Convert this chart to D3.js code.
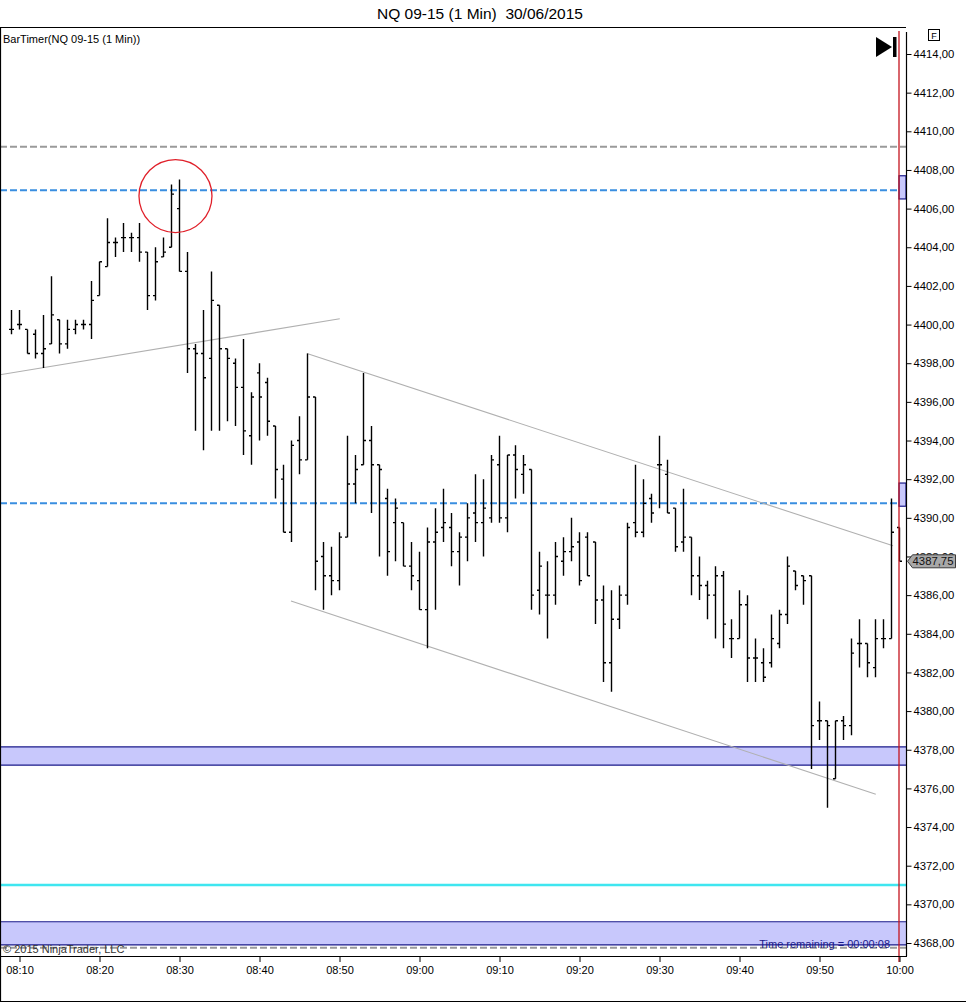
<!DOCTYPE html>
<html>
<head>
<meta charset="utf-8">
<script src="https://cdn.jsdelivr.net/npm/d3@7"></script>
<style>
  html, body { margin: 0; padding: 0; background: #fff; }
  svg { display: block; font-family: "Liberation Sans", Arial, sans-serif; }
</style>
</head>
<body>
<svg id="chart" width="967" height="1002"></svg>
<script>
(function() {
  'use strict';

  // ---- data ----
  const times = [
    '08:09','08:10','08:11','08:12','08:13','08:14','08:15','08:16','08:17','08:18','08:19',
    '08:20','08:21','08:22','08:23','08:24','08:25','08:26','08:27','08:28','08:29',
    '08:30','08:31','08:32','08:33','08:34','08:35','08:36','08:37','08:38','08:39',
    '08:40','08:41','08:42','08:43','08:44','08:45','08:46','08:47','08:48','08:49',
    '08:50','08:51','08:52','08:53','08:54','08:55','08:56','08:57','08:58','08:59',
    '09:00','09:01','09:02','09:03','09:04','09:05','09:06','09:07','09:08','09:09',
    '09:10','09:11','09:12','09:13','09:14','09:15','09:16','09:17','09:18','09:19',
    '09:20','09:21','09:22','09:23','09:24','09:25','09:26','09:27','09:28','09:29',
    '09:30','09:31','09:32','09:33','09:34','09:35','09:36','09:37','09:38','09:39',
    '09:40','09:41','09:42','09:43','09:44','09:45','09:46','09:47','09:48','09:49',
    '09:50','09:51','09:52','09:53','09:54','09:55','09:56','09:57','09:58','09:59',
    '10:00'
  ];
  const opens = [
    4399.75,4400.0,4399.75,4399.5,4398.5,4399.0,4400.25,4399.0,4399.75,4400.0,4400.0,
    4401.5,4403.0,4404.25,4404.5,4404.5,4404.5,4403.75,4401.5,4403.5,4404.0,
    4406.0,4402.75,4398.75,4398.5,4398.25,4401.0,4398.75,4398.0,4396.75,4394.25,
    4397.5,4397.0,4394.75,4392.0,4389.25,4394.0,4393.0,4396.25,4388.0,4387.0,
    4386.75,4389.0,4391.75,4392.75,4394.0,4392.75,4391.0,4389.75,4389.75,4387.5,
    4386.75,4385.25,4388.75,4389.5,4389.5,4388.25,4389.0,4390.25,4389.75,4390.0,
    4392.75,4390.0,4393.25,4392.25,4392.5,4386.25,4386.0,4386.0,4387.75,4388.25,
    4388.75,4389.0,4388.75,4385.75,4382.5,4384.75,4386.0,4389.75,4389.25,4391.0,
    4392.75,4392.25,4390.5,4388.75,4389.0,4387.0,4386.5,4386.0,4387.0,4383.75,
    4383.75,4385.5,4382.75,4382.5,4382.5,4383.5,4385.0,4387.25,4387.0,4387.0,
    4379.5,4379.5,4376.5,4379.5,4379.25,4383.5,4383.5,4382.25,4383.75,4383.75,
    4389.5
  ];
  const highs = [
    4400.75,4400.75,4399.75,4399.75,4400.5,4402.5,4400.25,4400.25,4400.25,4400.25,4402.25,
    4403.25,4405.5,4404.5,4405.25,4404.75,4405.25,4403.75,4404.0,4404.5,4407.25,
    4407.5,4403.75,4399.0,4400.75,4402.75,4401.0,4398.75,4398.25,4399.25,4396.5,
    4398.0,4397.25,4394.75,4392.75,4394.0,4395.25,4398.5,4396.25,4388.75,4388.5,
    4389.25,4394.25,4393.25,4397.5,4394.75,4392.75,4391.5,4391.0,4389.75,4388.75,
    4388.25,4389.5,4390.5,4391.5,4390.25,4389.25,4390.75,4392.25,4392.0,4393.25,
    4394.25,4393.25,4393.75,4393.25,4392.5,4388.25,4387.75,4388.75,4389.0,4390.0,
    4389.25,4389.25,4388.75,4386.5,4386.25,4386.5,4389.75,4392.75,4392.0,4391.25,
    4394.25,4393.0,4390.5,4391.5,4389.0,4388.0,4386.75,4387.5,4387.25,4384.75,
    4386.25,4386.0,4383.75,4383.25,4385.0,4385.25,4388.0,4387.25,4387.0,4387.0,
    4380.5,4379.5,4379.5,4379.75,4383.75,4384.75,4383.5,4384.75,4384.75,4391.0,
    4389.5
  ];
  const lows = [
    4399.5,4399.75,4398.5,4398.25,4397.75,4399.0,4398.5,4398.75,4399.5,4399.75,4399.25,
    4401.5,4403.0,4403.5,4403.75,4403.75,4403.25,4400.75,4401.25,4403.5,4404.0,
    4402.75,4397.5,4394.5,4393.5,4394.5,4394.5,4395.0,4394.75,4393.25,4392.75,
    4394.0,4394.25,4391.0,4389.25,4388.75,4392.25,4393.0,4386.25,4385.25,4386.0,
    4386.25,4389.0,4390.75,4392.75,4390.25,4388.0,4387.0,4387.75,4387.5,4386.25,
    4385.25,4383.25,4385.25,4388.75,4387.5,4386.5,4387.75,4388.75,4388.0,4389.75,
    4389.75,4389.25,4391.0,4391.25,4385.25,4385.0,4383.75,4385.5,4387.0,4387.75,
    4386.5,4387.0,4384.5,4381.5,4381.0,4384.25,4385.5,4389.0,4389.0,4389.75,
    4390.5,4390.25,4388.25,4388.25,4386.0,4385.75,4384.75,4383.75,4383.25,4382.75,
    4383.75,4381.5,4381.5,4381.5,4382.25,4383.25,4384.5,4386.25,4385.5,4377.0,
    4378.5,4375.0,4376.5,4378.5,4378.75,4382.25,4381.75,4381.75,4383.25,4383.75,
    4387.75
  ];
  const closes = [
    4399.75,4400.0,4398.5,4398.5,4398.75,4400.5,4399.0,4399.75,4400.0,4400.0,4401.25,
    4403.25,4404.25,4404.25,4404.5,4404.5,4403.75,4401.5,4403.25,4403.75,4406.75,
    4402.75,4398.75,4398.5,4397.25,4401.25,4398.75,4398.25,4396.75,4394.5,4396.25,
    4396.25,4395.0,4392.5,4389.25,4393.75,4393.0,4396.25,4387.75,4387.0,4386.75,
    4389.0,4391.75,4392.5,4394.0,4392.75,4392.5,4388.25,4390.5,4387.5,4387.0,
    4385.25,4388.75,4389.25,4389.75,4388.25,4389.0,4390.0,4389.75,4390.5,4393.0,
    4390.0,4393.25,4392.5,4392.75,4386.0,4387.5,4386.0,4388.0,4388.25,4388.5,
    4386.75,4387.0,4385.75,4382.5,4384.75,4386.0,4389.5,4389.25,4390.75,4390.25,
    4392.75,4390.25,4388.5,4389.0,4387.0,4386.5,4386.0,4387.0,4384.5,4383.75,
    4385.5,4382.75,4382.75,4381.75,4383.75,4385.0,4387.5,4386.5,4386.75,4379.25,
    4379.5,4379.25,4379.5,4379.25,4383.0,4383.5,4382.5,4383.75,4383.75,4389.25,
    4387.75
  ];

  const priceTicks = [4368,4370,4372,4374,4376,4378,4380,4382,4384,4386,4388,4390,
                      4392,4394,4396,4398,4400,4402,4404,4406,4408,4410,4412,4414];
  const timeTicks = ['08:10','08:20','08:30','08:40','08:50','09:00',
                     '09:10','09:20','09:30','09:40','09:50','10:00'];

  // horizontal price levels
  const grayLevels = [4409.2, 4367.75];
  const blueLevels = [4406.95, 4390.75];
  const cyanLevels = [4371.0];
  // [top, bottom] zones across the whole chart, and zones starting at the last bar
  const fullZones = [[4378.15, 4377.2], [4369.1, 4367.9]];
  const rightZones = [[4407.7, 4406.5], [4391.8, 4390.6]];
  // trend lines: [startTime, startPrice, endTime, endPrice]
  const trendLines = [
    ['08:07.6', 4397.4, '08:50.1', 4400.3],
    ['08:46', 4398.5, '09:59.25', 4388.55],
    ['08:44', 4385.7, '09:57.1', 4375.7]
  ];
  const circleAt = ['08:29.56', 4406.65];
  const lastPrice = 4387.75;
  const lastTime = '10:00';

  // ---- layout ----
  const plotLeft = 0, plotRight = 906, plotTop = 27, plotBottom = 956;
  const toMin = s => { const [h, m] = s.split(':'); return (+h - 8) * 60 + (+m); };
  const fmtPrice = d => d3.format('.2f')(d).replace('.', ',');
  const fmtTime = m => {
    const h = 8 + Math.floor(m / 60), mm = m % 60;
    return String(h).padStart(2, '0') + ':' + String(mm).padStart(2, '0');
  };

  const x = d3.scaleLinear().domain([10, 120]).range([19, 899]);
  const y = d3.scaleLinear().domain([4368, 4414]).range([943, 54]);

  const svg = d3.select('#chart');
  const defs = svg.append('defs');
  defs.append('clipPath').attr('id', 'plot-clip')
    .append('rect')
    .attr('x', plotLeft).attr('y', plotTop)
    .attr('width', plotRight - plotLeft).attr('height', plotBottom - plotTop);

  // title
  svg.append('text')
    .attr('x', 480).attr('y', 19)
    .attr('text-anchor', 'middle')
    .attr('font-size', 15.5)
    .attr('fill', '#000')
    .text('NQ 09-15 (1 Min)\u00a0\u00a030/06/2015');

  const g = svg.append('g').attr('clip-path', 'url(#plot-clip)');

  // zones
  fullZones.forEach(([top, bot]) => {
    g.append('rect')
      .attr('x', plotLeft).attr('y', y(top))
      .attr('width', plotRight - plotLeft).attr('height', y(bot) - y(top))
      .attr('fill', '#c8c8fc');
    [top, bot].forEach(p => g.append('line')
      .attr('x1', plotLeft).attr('x2', plotRight)
      .attr('y1', y(p)).attr('y2', y(p))
      .attr('stroke', '#1a1a8a').attr('stroke-width', 1.2));
  });

  // horizontal levels
  cyanLevels.forEach(p => g.append('line')
    .attr('x1', plotLeft).attr('x2', plotRight)
    .attr('y1', y(p)).attr('y2', y(p))
    .attr('stroke', '#3fe6f0').attr('stroke-width', 2.5));

  grayLevels.forEach(p => g.append('line')
    .attr('x1', plotLeft).attr('x2', plotRight)
    .attr('y1', y(p)).attr('y2', y(p))
    .attr('stroke', '#9a9a9a').attr('stroke-width', 2)
    .attr('stroke-dasharray', '7,3'));

  blueLevels.forEach(p => g.append('line')
    .attr('x1', plotLeft).attr('x2', plotRight)
    .attr('y1', y(p)).attr('y2', y(p))
    .attr('stroke', '#3a8ee0').attr('stroke-width', 2)
    .attr('stroke-dasharray', '7,3'));

  // trend lines
  trendLines.forEach(([t0, p0, t1, p1]) => g.append('line')
    .attr('x1', x(toMin(t0))).attr('y1', y(p0))
    .attr('x2', x(toMin(t1))).attr('y2', y(p1))
    .attr('stroke', '#b0b0b0').attr('stroke-width', 1.1));

  // OHLC bars
  const bars = times.map((t, i) => ({
    m: toMin(t), o: opens[i], h: highs[i], l: lows[i], c: closes[i]
  }));
  g.append('g').attr('class', 'bars')
    .selectAll('path')
    .data(bars)
    .enter()
    .append('path')
    .attr('d', d => {
      const cx = Math.round(x(d.m)) + 0.5;
      return `M${cx},${y(d.h)}V${y(d.l)}` +
             `M${cx - 2.5},${y(d.o)}H${cx}` +
             `M${cx},${y(d.c)}H${cx + 2.5}`;
    })
    .attr('fill', 'none')
    .attr('stroke', '#000')
    .attr('stroke-width', 1.4);

  // red circle annotation
  g.append('circle')
    .attr('cx', x(toMin(circleAt[0]))).attr('cy', y(circleAt[1]))
    .attr('r', 36.5)
    .attr('fill', 'none')
    .attr('stroke', '#e0202a').attr('stroke-width', 1.3);

  // zones starting at the current bar
  rightZones.forEach(([top, bot]) => g.append('rect')
    .attr('x', x(toMin(lastTime))).attr('y', y(top))
    .attr('width', plotRight - x(toMin(lastTime)))
    .attr('height', y(bot) - y(top))
    .attr('fill', '#c8c8fc')
    .attr('stroke', '#1a1a8a').attr('stroke-width', 1.2));

  // current bar marker
  svg.append('line')
    .attr('x1', x(toMin(lastTime))).attr('x2', x(toMin(lastTime)))
    .attr('y1', plotTop + 4).attr('y2', plotBottom + 6)
    .attr('stroke', '#c4141e').attr('stroke-width', 1.3);

  // frame
  svg.append('path')
    .attr('d', `M${plotRight + 0.5},${plotTop + 5}V${plotBottom}` +
               `M0.5,${plotTop + 0.5}H${plotRight}` +
               `M0.5,${plotTop}V1001.5H966`)
    .attr('fill', 'none').attr('stroke', '#000').attr('stroke-width', 1.2);
  svg.append('line')
    .attr('x1', 0).attr('x2', plotRight + 1)
    .attr('y1', plotBottom + 0.5).attr('y2', plotBottom + 0.5)
    .attr('stroke', '#000').attr('stroke-width', 1.2);

  // price axis
  const yAxis = d3.axisRight(y)
    .tickValues(priceTicks)
    .tickSize(5)
    .tickPadding(2)
    .tickFormat(fmtPrice);
  const yAxisG = svg.append('g')
    .attr('transform', `translate(${plotRight + 0.5},0)`)
    .call(yAxis);
  yAxisG.select('.domain').remove();
  yAxisG.selectAll('text').attr('font-size', 11.3).attr('font-family', '"Liberation Sans", Arial, sans-serif').attr('fill', '#000');
  yAxisG.selectAll('line').attr('stroke', '#000');

  // time axis
  const xAxis = d3.axisBottom(x)
    .tickValues(timeTicks.map(toMin))
    .tickSize(6)
    .tickPadding(4)
    .tickFormat(fmtTime);
  const xAxisG = svg.append('g')
    .attr('transform', `translate(0.5,${plotBottom})`)
    .call(xAxis);
  xAxisG.select('.domain').remove();
  xAxisG.selectAll('text').attr('font-size', 11).attr('font-family', '"Liberation Sans", Arial, sans-serif').attr('fill', '#000');
  xAxisG.selectAll('line').attr('stroke', '#000');

  // last price marker (covers most of the 4388 label, as in the platform)
  const ly = y(lastPrice);
  svg.append('path')
    .attr('d', `M${plotRight + 1.5},${ly}L${plotRight + 6.5},${ly - 6.5}H955.5V${ly + 6.5}H${plotRight + 6.5}Z`)
    .attr('fill', '#a8a8a8').attr('stroke', '#3a3a3a').attr('stroke-width', 1);
  svg.append('text')
    .attr('x', 933).attr('y', ly + 4)
    .attr('text-anchor', 'middle')
    .attr('font-size', 11.3).attr('fill', '#111')
    .text(fmtPrice(lastPrice));

  // texts
  svg.append('text')
    .attr('x', 3).attr('y', 43)
    .attr('font-size', 11).attr('fill', '#000')
    .text('BarTimer(NQ 09-15 (1 Min))');
  svg.append('text')
    .attr('x', 3).attr('y', 953)
    .attr('font-size', 11).attr('fill', '#333')
    .text('\u00a9 2015 NinjaTrader, LLC');
  svg.append('text')
    .attr('x', 890).attr('y', 948)
    .attr('text-anchor', 'end')
    .attr('font-size', 11).attr('fill', '#1a1a8a')
    .text('Time remaining = 00:00:08');

  // "go to end" icon and F box
  svg.append('path')
    .attr('d', 'M876,37L892,47L876,57Z')
    .attr('fill', '#000');
  svg.append('rect')
    .attr('x', 893).attr('y', 37).attr('width', 3.5).attr('height', 20)
    .attr('fill', '#000');
  svg.append('rect')
    .attr('x', 928.5).attr('y', 29.5).attr('width', 11).attr('height', 11)
    .attr('fill', '#fff').attr('stroke', '#000').attr('stroke-width', 1);
  svg.append('text')
    .attr('x', 934).attr('y', 38.5)
    .attr('text-anchor', 'middle')
    .attr('font-size', 9).attr('fill', '#000')
    .text('F');
})();
</script>
</body>
</html>
